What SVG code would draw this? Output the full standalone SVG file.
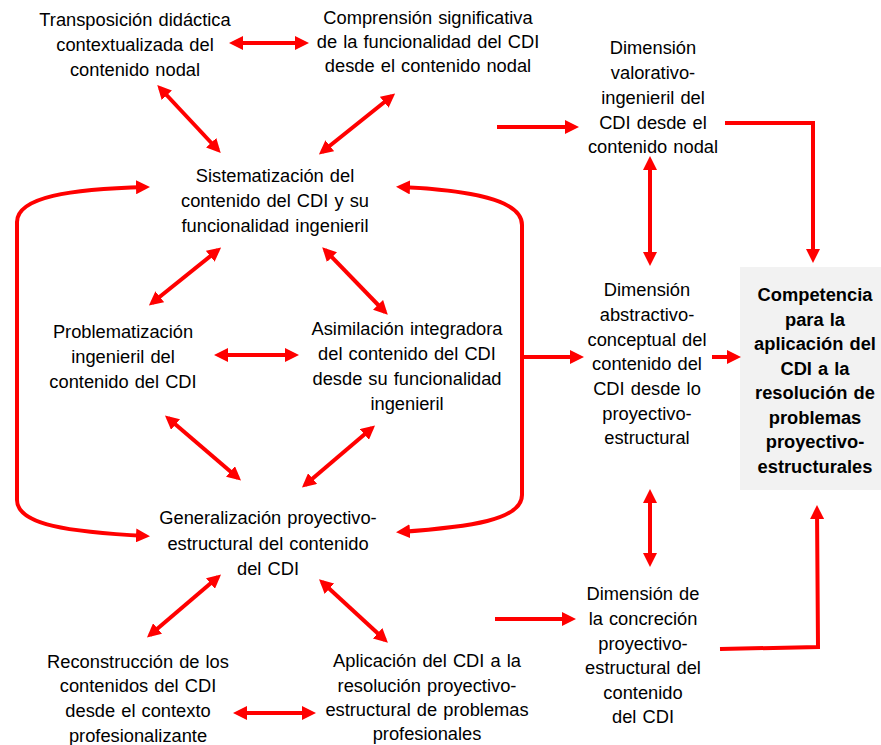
<svg xmlns="http://www.w3.org/2000/svg" width="881" height="745" viewBox="0 0 881 745">
<defs>
<style>
text{font-family:"Liberation Sans",Arial,sans-serif;font-size:18.3px;word-spacing:1px;fill:#000;text-anchor:middle}
.b{font-weight:bold}
.c{fill:none;stroke:#ff0000;stroke-width:4}
.d{marker-start:url(#ah);marker-end:url(#ah)}
.s{marker-end:url(#ah)}
</style>
<marker id="ah" viewBox="0 0 14 14" markerWidth="14" markerHeight="14" refX="10" refY="7" markerUnits="userSpaceOnUse" orient="auto-start-reverse">
<path d="M0,0 L14,7 L0,14 z" fill="#ff0000"/>
</marker>
</defs>
<rect id="box" x="740" y="267" width="141" height="223" fill="#f2f2f2"/>
<g id="connectors">
<path class="c d" d="M233,43 L305,43"/>
<path class="c d" d="M160,88 L218,150"/>
<path class="c d" d="M392,96 L322,152"/>
<path class="c d" d="M218,250 L152,303"/>
<path class="c d" d="M325,250 L385,312"/>
<path class="c d" d="M218,355 L295,355"/>
<path class="c d" d="M168,418 L238,478"/>
<path class="c d" d="M372,428 L305,485"/>
<path class="c d" d="M218,577 L150,635"/>
<path class="c d" d="M322,582 L385,640"/>
<path class="c d" d="M237,713 L312,713"/>
<path class="c d" d="M146,187 C70,189 17,197 17,222 L17,500 C17,525 70,532 146,536"/>
<path class="c d" d="M400,187 C470,190 522,200 522,225 L522,495 C522,520 470,527 400,532"/>
<path class="c s" d="M522,357 L580,357"/>
<path class="c s" d="M497,127 L575,127"/>
<path class="c s" d="M725,123 L813,123 L813,259"/>
<path class="c d" d="M650,160 L650,262"/>
<path class="c s" d="M712,357 L737,357"/>
<path class="c d" d="M650,493 L650,563"/>
<path class="c s" d="M495,619 L572,619"/>
<path class="c s" d="M720,649 L818,647 L817,509"/>
</g>
<g id="n1"><text x="135" y="26">Transposición didáctica</text><text x="135" y="51">contextualizada del</text><text x="135" y="76">contenido nodal</text></g>
<g id="n2"><text x="428" y="24">Comprensión significativa</text><text x="428" y="48">de la funcionalidad del CDI</text><text x="428" y="72">desde el contenido nodal</text></g>
<g id="n3"><text x="275" y="182">Sistematización del</text><text x="275" y="207">contenido del CDI y su</text><text x="275" y="232">funcionalidad ingenieril</text></g>
<g id="n4"><text x="123" y="338">Problematización</text><text x="123" y="363">ingenieril del</text><text x="123" y="388">contenido del CDI</text></g>
<g id="n5"><text x="407" y="335">Asimilación integradora</text><text x="407" y="360">del contenido del CDI</text><text x="407" y="385">desde su funcionalidad</text><text x="407" y="410">ingenieril</text></g>
<g id="n6"><text x="268" y="524">Generalización proyectivo-</text><text x="268" y="550">estructural del contenido</text><text x="268" y="575">del CDI</text></g>
<g id="n7"><text x="138" y="668">Reconstrucción de los</text><text x="138" y="692">contenidos del CDI</text><text x="138" y="717">desde el contexto</text><text x="138" y="742">profesionalizante</text></g>
<g id="n8"><text x="427" y="667">Aplicación del CDI a la</text><text x="427" y="692">resolución proyectivo-</text><text x="427" y="716">estructural de problemas</text><text x="427" y="740">profesionales</text></g>
<g id="n9"><text x="653" y="54">Dimensión</text><text x="653" y="79">valorativo-</text><text x="653" y="104">ingenieril del</text><text x="653" y="129">CDI desde el</text><text x="653" y="153">contenido nodal</text></g>
<g id="n10"><text x="647" y="296">Dimensión</text><text x="647" y="321">abstractivo-</text><text x="647" y="346">conceptual del</text><text x="647" y="370">contenido del</text><text x="647" y="395">CDI desde lo</text><text x="647" y="420">proyectivo-</text><text x="647" y="444">estructural</text></g>
<g id="n11"><text x="643" y="600">Dimensión de</text><text x="643" y="625">la concreción</text><text x="643" y="650">proyectivo-</text><text x="643" y="674">estructural del</text><text x="643" y="699">contenido</text><text x="643" y="723">del CDI</text></g>
<g id="n12"><text class="b" x="815" y="301">Competencia</text><text class="b" x="815" y="326">para la</text><text class="b" x="815" y="350">aplicación del</text><text class="b" x="815" y="375">CDI a la</text><text class="b" x="815" y="399">resolución de</text><text class="b" x="815" y="424">problemas</text><text class="b" x="815" y="448">proyectivo-</text><text class="b" x="815" y="473">estructurales</text></g>
</svg>
